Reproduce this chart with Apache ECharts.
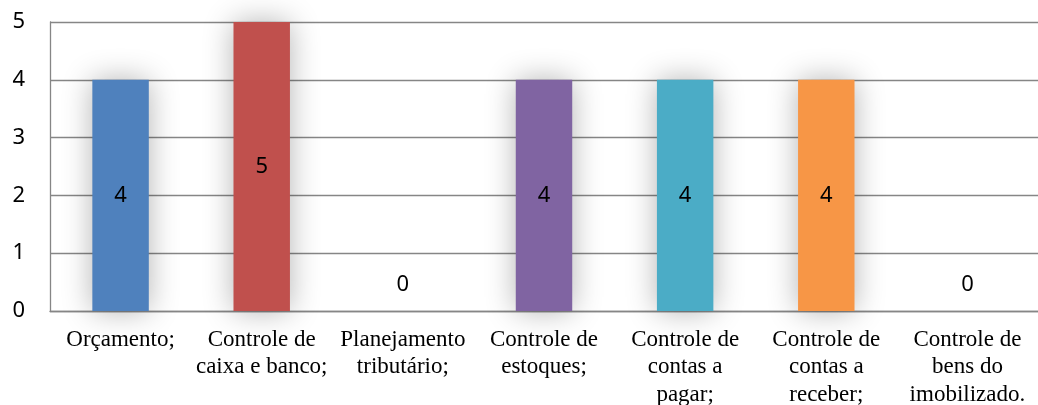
<!DOCTYPE html>
<html><head><meta charset="utf-8">
<script src="https://cdn.jsdelivr.net/npm/echarts@6/dist/echarts.min.js"></script>
<style>html,body{margin:0;padding:0;background:#fff}#c{width:1038px;height:405px}</style>
</head><body><div id="c"></div>
<script>
const categories = ["Orçamento;", "Controle de\ncaixa e banco;", "Planejamento\ntributário;", "Controle de\nestoques;", "Controle de\ncontas a\npagar;", "Controle de\ncontas a\nreceber;", "Controle de\nbens do\nimobilizado."];
const values = [4, 5, 0, 4, 4, 4, 0];
const colors = ["#4F81BD", "#C0504D", "#9BBB59", "#8064A2", "#4BACC6", "#F79646", "#2C4D75"];
const yTicks = [0, 1, 2, 3, 4, 5];

const chart = echarts.init(document.getElementById('c'));
const data = values.map((v, i) => ({
  value: v,
  itemStyle: { color: colors[i] },
  label: v === 0 ? { position: 'top', distance: 15 } : { position: 'inside' }
}));
chart.setOption({
  animation: false,
  grid: { left: 50, right: 0, top: 22, bottom: 94, containLabel: false, outerBoundsMode: 'none' },
  xAxis: {
    type: 'category',
    data: categories,
    axisLine: { lineStyle: { color: '#868686', width: 1.3 } },
    axisTick: { show: false },
    axisLabel: {
      interval: 0, margin: 15,
      fontFamily: 'Liberation Serif', fontSize: 23, lineHeight: 27.5, color: '#000'
    }
  },
  yAxis: {
    type: 'value', min: yTicks[0], max: yTicks[yTicks.length - 1], interval: 1,
    axisLine: { show: true, lineStyle: { color: '#868686', width: 1.3 } },
    axisTick: { show: false },
    splitLine: { lineStyle: { color: '#868686', width: 1.3 } },
    axisLabel: { margin: 25, fontFamily: 'Noto Sans', fontSize: 22, color: '#000' }
  },
  series: [{
    type: 'bar',
    data: data,
    barWidth: '40%',
    itemStyle: { shadowBlur: 30, shadowColor: 'rgba(0,0,0,0.3)' },
    label: { show: true, fontFamily: 'Noto Sans', fontSize: 22, color: '#000' }
  }]
});
</script></body></html>
